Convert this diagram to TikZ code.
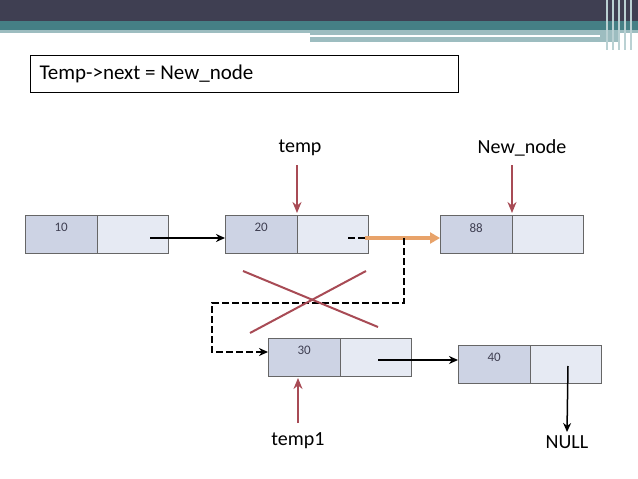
\documentclass[tikz,border=0pt]{standalone}
\usepackage{fontspec}
\setmainfont{Carlito}
\usetikzlibrary{arrows.meta}
\definecolor{dark}{HTML}{3F3F52}
\definecolor{teal1}{HTML}{457F85}
\definecolor{teal2}{HTML}{9DBDC0}
\definecolor{cellA}{HTML}{CDD3E4}
\definecolor{cellB}{HTML}{E6EAF3}
\definecolor{redd}{HTML}{A84B55}
\definecolor{orng}{HTML}{E8A36A}
\begin{document}
\begin{tikzpicture}[x=1pt,y=-1pt,
  cellL/.style={draw=gray!80!black,line width=1pt,fill=cellA,minimum width=72pt,minimum height=38pt,inner sep=0pt},
  cellR/.style={draw=gray!80!black,line width=1pt,fill=cellB,minimum width=71pt,minimum height=38pt,inner sep=0pt},
  num/.style={font=\fontsize{13}{15}\selectfont,text=dark},
  lab/.style={font=\fontsize{20}{24}\selectfont},
  blk/.style={-{Stealth[length=9pt,width=8pt]},line width=1.5pt},
  red/.style={-{Stealth[length=11pt,width=9pt]},line width=2pt,draw=redd},
  dsh/.style={line width=1.8pt,dash pattern=on 7pt off 3pt}]
\useasboundingbox (0,0) rectangle (638,479);
\fill[white] (0,0) rectangle (638,479);
% header
\fill[dark] (0,0) rectangle (638,21);
\fill[teal1] (0,21) rectangle (638,30);
\fill[teal2] (0,30) rectangle (638,33);
\fill[teal2] (310,33) rectangle (620,42);
\fill[white] (310,35) rectangle (600,37);
\foreach \xx in {606,612,618,624,630} \fill[teal2!70] (\xx,0) rectangle (\xx+2,50);
% title
\node[draw,line width=1.3pt,minimum width=428pt,minimum height=37pt,anchor=north west,inner sep=0pt] (title) at (30,55) {};
\node[font=\fontsize{21}{24}\selectfont,anchor=west] (tt) at (36,73.5) {Temp->next = New\_node};
% nodes
\newcommand{\llnode}[4]{%
 \node[cellL,anchor=north west] (#1L) at (#2,#3) {};
 \node[cellR,anchor=north west] (#1R) at (#2+72,#3) {};
 \node[num,anchor=north west] (#1n) at (#2+26,#3+5) {#4};}
\llnode{a}{25}{215}{10}
\llnode{b}{225}{215}{20}
\llnode{c}{440}{215}{88}
\llnode{d}{268}{338}{30}
\llnode{e}{458}{345}{40}
\coordinate (a1) at (150,238);
\draw[blk] (a1) -- (bL.west|-a1);
\coordinate (b1) at (348,238);
\coordinate (b2) at (365,238);
\draw[dsh] (b1) -- (b2);
\draw[-{Triangle[length=10pt,width=11pt]},line width=3.5pt,draw=orng] (b2) -- (cL.west|-b2);
\coordinate (k1) at (404,238);
\coordinate (k2) at (404,303);
\coordinate (k3) at (212,303);
\coordinate (k4) at (212,352);
\draw[dsh,-{Stealth[length=9pt,width=8pt]}] (k1) -- (k2) -- (k3) -- (k4) -- (dL.west|-k4);
\coordinate (d1) at (378,360);
\draw[blk] (d1) -- (eL.west|-d1);
% NULL
\node[lab] (null) at (567,442) {NULL};
\coordinate (e1) at (568,366);
\draw[blk] (e1) -- (null.north);
% labels with red arrows
\node[lab] (temp) at (300,148) {temp};
\coordinate (p1) at (297,213);
\draw[red] (297,165) -- (p1);
\node[lab] (nn) at (522,148) {New\_node};
\coordinate (p2) at (512,213);
\draw[red] (512,165) -- (p2);
\node[lab] (t1) at (298,441) {temp1};
\coordinate (p3) at (298,378);
\draw[red] (298,423) -- (p3);
% X
\draw[redd,line width=2pt] (243,271) -- (378,327);
\draw[redd,line width=2pt] (250,333) -- (366,271);
\end{tikzpicture}
\end{document}
